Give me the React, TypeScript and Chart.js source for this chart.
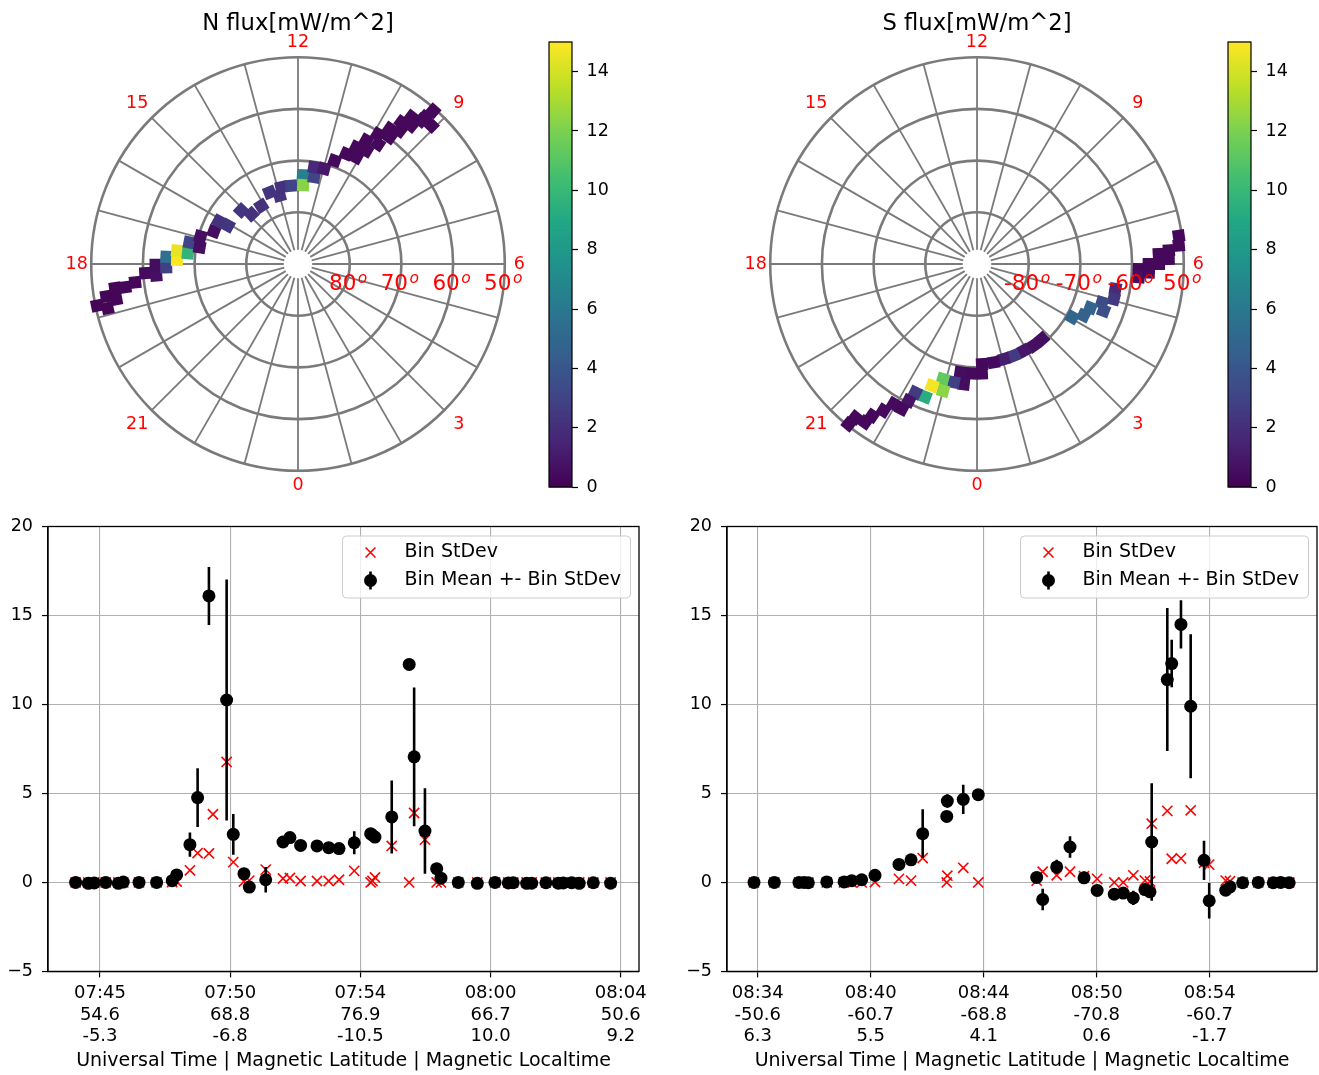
import React, { useEffect, useRef } from "react";
import { Chart, registerables } from "chart.js";

Chart.register(...registerables);

const FONT = "'DejaVu Sans', 'Liberation Sans', sans-serif";
Chart.defaults.font.family = FONT;
Chart.defaults.color = "#000";

// ---------------- Polar track data (MLT hours, magnetic latitude, flux mW/m^2) ----------------
const nMlt = [18.78, 18.87, 18.64, 18.73, 18.5, 18.51, 18.43, 18.23, 18.31, 18.02, 18.1, 17.79, 17.87, 17.58, 17.63, 17.25, 17.36, 16.95, 16.59, 16.11, 16.09, 15.11, 14.87, 14.15, 13.44, 13.0, 12.82, 12.33, 11.79, 11.75, 11.3, 11.37, 10.98, 10.7, 10.42, 10.09, 10.23, 9.93, 10.07, 9.75, 9.89, 9.61, 9.72, 9.51, 9.59, 9.38, 9.49, 9.29, 9.07, 9.24, 9.28];
const nLat = [50.3, 52.2, 52.4, 54.2, 54.3, 56.3, 58.3, 60.4, 62.5, 62.45, 64.5, 64.5, 66.6, 66.5, 68.6, 68.6, 70.7, 70.4, 72.55, 72.6, 74.55, 74.9, 76.8, 76.7, 75.1, 76.3, 74.8, 74.8, 72.8, 74.7, 72.9, 71.0, 70.9, 68.8, 66.75, 66.5, 64.75, 64.4, 62.7, 62.1, 60.5, 59.7, 58.4, 57.55, 56.06, 55.4, 54.1, 53.4, 52.8, 50.46, 52.5];
const nFlux = [0.2, 0.2, 0.2, 0.2, 0.2, 0.3, 0.3, 0.4, 0.6, 0.5, 2.8, 5.5, 15.0, 14.5, 9.8, 3.0, 0.6, 0.6, 0.5, 2.2, 2.3, 2.3, 2.1, 2.1, 2.3, 2.2, 2.1, 3.0, 6.5, 12.3, 3.0, 1.8, 1.0, 0.4, 0.3, 0.3, 0.3, 0.3, 0.3, 0.3, 0.3, 0.3, 0.3, 0.3, 0.3, 0.3, 0.3, 0.3, 0.3, 0.3, 0.3];

const sMlt = [6.53, 6.35, 6.27, 6.21, 6.1, 6.0, 6.0, 5.88, 5.69, 5.81, 5.32, 5.04, 4.86, 4.65, 4.59, 4.28, 4.05, 2.73, 2.32, 1.89, 1.45, 1.05, 0.64, 0.19, 0.17, 23.77, 23.42, 23.58, 23.26, 22.9, 23.0, 22.65, 22.58, 22.29, 22.23, 22.17, 21.95, 21.83, 21.69, 21.65, 21.44, 21.42];
const sLat = [-50.6, -50.8, -52.8, -54.8, -52.9, -56.8, -54.8, -58.7, -58.6, -56.7, -62.8, -62.7, -64.7, -63.9, -66.5, -67.1, -68.9, -70.8, -70.8, -70.95, -70.9, -70.9, -70.7, -70.6, -68.8, -68.8, -68.8, -66.6, -66.7, -66.8, -64.6, -64.9, -62.4, -62.4, -60.4, -58.4, -58.5, -56.35, -54.3, -52.5, -52.1, -50.3];
const sFlux = [0.3, 0.3, 0.3, 0.3, 0.3, 0.3, 0.3, 0.3, 0.6, 0.3, 1.8, 2.4, 3.4, 3.6, 4.8, 4.7, 5.0, 0.5, 0.6, 1.0, 2.6, 1.2, 0.4, 0.3, 0.3, 0.4, 0.5, 0.5, 2.8, 11.3, 12.4, 14.8, 9.3, 2.6, 0.8, 0.4, 0.4, 0.4, 0.3, 0.3, 0.3, 0.3];

const hourTicks = [12, 9, 6, 3, 0, 21, 18, 15];
const latRings = [80, 70, 60, 50];
const nRingLabels = ["80", "70", "60", "50"];
const sRingLabels = ["-80", "-70", "-60", "50"];
const cbTicks = [0, 2, 4, 6, 8, 10, 12, 14];
const cbMin = 0;
const cbMax = 15;

// ---------------- Bin statistics (x = sample position along the pass) ----------------
const nBinX = [-18.7, -9.0, -4.4, 4.4, 14.1, 17.9, 30.0, 43.5, 55.5, 58.9, 69.1, 75.0, 83.7, 86.8, 97.3, 102.4, 110.6, 114.7, 127.3, 140.6, 145.9, 154.1, 166.7, 175.7, 183.6, 195.3, 207.9, 209.3, 211.2, 224.1, 237.5, 241.3, 249.6, 258.6, 261.9, 275.2, 289.8, 303.4, 313.6, 317.4, 327.7, 331.6, 342.5, 352.0, 355.8, 362.3, 368.1, 378.9, 392.2];
const nBinMean = [0, -0.05, -0.03, 0, -0.05, 0.02, 0, 0, 0.1, 0.42, 2.12, 4.77, 16.1, 24.0, 10.25, 2.7, 0.49, -0.26, 0.15, 2.27, 2.52, 2.08, 2.05, 1.95, 1.9, 2.23, 2.74, 2.65, 2.55, 3.68, 12.25, 7.06, 2.89, 0.77, 0.24, 0, -0.05, 0, -0.03, -0.02, -0.05, -0.04, -0.02, -0.04, -0.03, -0.02, -0.05, -0.02, -0.04];
const nBinStd = [0, 0, 0, 0, 0, 0, 0, 0, 0.02, 0.05, 0.68, 1.65, 1.63, 3.83, 6.77, 1.14, 0.05, 0.1, 0.72, 0.22, 0.25, 0.08, 0.08, 0.08, 0.15, 0.65, 0.0, 0.08, 0.28, 2.05, 0.0, 3.9, 2.4, 0.0, 0.0, 0, 0, 0, 0, 0, 0, 0, 0, 0, 0, 0, 0, 0, 0];
const nTickPos = [0, 100, 200, 300, 400];
const nTickUT = ["07:45", "07:50", "07:54", "08:00", "08:04"];
const nTickMLat = ["54.6", "68.8", "76.9", "66.7", "50.6"];
const nTickMLT = ["-5.3", "-6.8", "-10.5", "10.0", "9.2"];

const sBinX = [-3.3, 14.7, 36.5, 41.0, 44.8, 61.1, 76.4, 83.2, 92.0, 103.8, 125.0, 135.7, 146.0, 167.3, 167.8, 181.9, 195.2, 246.9, 252.2, 264.6, 276.4, 288.8, 300.4, 315.6, 323.5, 332.4, 342.7, 347.2, 348.7, 362.5, 366.4, 374.6, 383.2, 395.0, 399.6, 414.2, 418.0, 429.2, 443.0, 456.3, 462.8, 470.4];
const sBinMean = [0, 0, 0, 0, -0.02, 0.03, 0.03, 0.1, 0.15, 0.4, 1.01, 1.27, 2.74, 3.71, 4.57, 4.67, 4.93, 0.28, -0.96, 0.87, 1.99, 0.26, -0.45, -0.66, -0.6, -0.87, -0.4, -0.53, 2.27, 11.4, 12.3, 14.5, 9.9, 1.24, -1.03, -0.44, -0.25, -0.02, 0, -0.02, 0, -0.02];
const sBinStd = [0, 0, 0, 0, 0, 0, 0, 0, 0, 0.02, 0.2, 0.1, 1.37, 0.0, 0.38, 0.82, 0.0, 0.1, 0.6, 0.4, 0.6, 0.35, 0.2, 0.0, 0.0, 0.4, 0.1, 0.05, 3.3, 4.02, 1.33, 1.35, 4.05, 1.1, 1.0, 0.1, 0.07, 0, 0, 0, 0, 0];
const sTickPos = [0, 100, 200, 300, 400];
const sTickUT = ["08:34", "08:40", "08:44", "08:50", "08:54"];
const sTickMLat = ["-50.6", "-60.7", "-68.8", "-70.8", "-60.7"];
const sTickMLT = ["6.3", "5.5", "4.1", "0.6", "-1.7"];

const yTicks = [-5, 0, 5, 10, 15, 20];

// ---------------- helpers ----------------
const VIRIDIS = [
  [68, 1, 84], [72, 36, 117], [65, 68, 135], [53, 95, 141], [42, 120, 142],
  [33, 145, 140], [34, 168, 132], [68, 191, 112], [122, 209, 81], [189, 223, 38], [253, 231, 37],
];
function viridis(t: number): string {
  const c = Math.max(0, Math.min(1, t)) * 10;
  const i = Math.min(9, Math.floor(c));
  const f = c - i;
  const a = VIRIDIS[i], b = VIRIDIS[i + 1];
  const r = Math.round(a[0] + (b[0] - a[0]) * f);
  const g = Math.round(a[1] + (b[1] - a[1]) * f);
  const bl = Math.round(a[2] + (b[2] - a[2]) * f);
  return `rgb(${r},${g},${bl})`;
}

const PX_PER_DEG = 5.17;
const POLAR_SIZE = 520;

function PolarPanel(props: { left: number; top: number; mlt: number[]; lat: number[]; flux: number[]; title: string; ringLabels: string[] }) {
  const ref = useRef<HTMLCanvasElement>(null);
  useEffect(() => {
    const { mlt, lat, flux, title, ringLabels } = props;
    const R = POLAR_SIZE / 2 / PX_PER_DEG;
    const pts = mlt.map((h, i) => {
      const c = 90 - Math.abs(lat[i]);
      const phi = (h / 24) * 2 * Math.PI;
      return { x: c * Math.sin(phi), y: -c * Math.cos(phi) };
    });
    const rots = mlt.map((h) => -(h / 24) * 360);
    const cols = flux.map((v) => viridis((v - cbMin) / (cbMax - cbMin)));

    const decor = {
      id: "polarDecor",
      beforeDatasetsDraw(chart: any) {
        const { ctx } = chart;
        const xs = chart.scales.x, ys = chart.scales.y;
        const cx = xs.getPixelForValue(0), cy = ys.getPixelForValue(0);
        const P = (c: number, h: number) => {
          const phi = (h / 24) * 2 * Math.PI;
          return [xs.getPixelForValue(c * Math.sin(phi)), ys.getPixelForValue(-c * Math.cos(phi))];
        };
        ctx.save();
        ctx.strokeStyle = "#7a7a7a";
        ctx.lineWidth = 1.8;
        for (let h = 0; h < 24; h++) {
          const a = P(2.75, h), b = P(40, h);
          ctx.beginPath();
          ctx.moveTo(a[0], a[1]);
          ctx.lineTo(b[0], b[1]);
          ctx.stroke();
        }
        ctx.lineWidth = 2.6;
        for (const L of latRings) {
          const r = xs.getPixelForValue(90 - L) - cx;
          ctx.beginPath();
          ctx.arc(cx, cy, r, 0, Math.PI * 2);
          ctx.stroke();
        }
        ctx.restore();
      },
      afterDatasetsDraw(chart: any) {
        const { ctx } = chart;
        const xs = chart.scales.x, ys = chart.scales.y;
        const cx = xs.getPixelForValue(0), cy = ys.getPixelForValue(0);
        ctx.save();
        // title
        ctx.fillStyle = "#000";
        ctx.font = `22.7px ${FONT}`;
        ctx.textAlign = "center";
        ctx.textBaseline = "alphabetic";
        ctx.fillText(title, cx, cy - 234.5);
        // hour labels
        ctx.fillStyle = "#ff0000";
        ctx.font = `17.5px ${FONT}`;
        ctx.textBaseline = "middle";
        for (const h of hourTicks) {
          const rr = h % 6 === 3 ? 44.0 : 42.8;
          const phi = (h / 24) * 2 * Math.PI;
          const x = xs.getPixelForValue(rr * Math.sin(phi));
          const y = ys.getPixelForValue(-rr * Math.cos(phi));
          ctx.fillText(String(h), x, y);
        }
        // latitude ring labels
        ctx.textBaseline = "alphabetic";
        ctx.textAlign = "left";
        latRings.forEach((L, i) => {
          const label = ringLabels[i];
          ctx.font = `21.5px ${FONT}`;
          const wd = ctx.measureText(label).width;
          ctx.font = `italic 15.5px ${FONT}`;
          const wo = ctx.measureText("o").width;
          const total = wd + 1.5 + wo;
          const center = xs.getPixelForValue(90 - L - 0.3);
          const start = center - total / 2;
          const base = ys.getPixelForValue(-4.95);
          ctx.font = `21.5px ${FONT}`;
          ctx.fillText(label, start, base);
          ctx.font = `italic 15.5px ${FONT}`;
          ctx.fillText("o", start + wd + 1.5, base - 6.5);
        });
        ctx.restore();
      },
    };

    const chart = new Chart(ref.current as HTMLCanvasElement, {
      type: "scatter",
      data: {
        datasets: [
          {
            data: pts,
            pointStyle: "rect",
            pointRadius: 8.5,
            pointRotation: rots,
            pointBackgroundColor: cols,
            pointBorderWidth: 0,
          } as any,
        ],
      },
      options: {
        responsive: false,
        animation: false,
        devicePixelRatio: 1,
        layout: { padding: 0, autoPadding: false },
        plugins: { legend: { display: false }, tooltip: { enabled: false } },
        scales: {
          x: { type: "linear", display: false, min: -R, max: R },
          y: { type: "linear", display: false, min: -R, max: R },
        },
      } as any,
      plugins: [decor],
    });
    return () => chart.destroy();
  }, []);
  return (
    <canvas
      ref={ref}
      width={POLAR_SIZE}
      height={POLAR_SIZE}
      style={{ position: "absolute", left: props.left, top: props.top, width: POLAR_SIZE, height: POLAR_SIZE }}
    />
  );
}

function ColorBar(props: { left: number; top: number }) {
  const ref = useRef<HTMLCanvasElement>(null);
  useEffect(() => {
    const grad = {
      id: "cbGrad",
      beforeDatasetsDraw(chart: any) {
        const { ctx, chartArea } = chart;
        const ys = chart.scales.y;
        const n = 256;
        ctx.save();
        for (let k = 0; k < n; k++) {
          const v0 = cbMin + ((cbMax - cbMin) * k) / n;
          const v1 = cbMin + ((cbMax - cbMin) * (k + 1)) / n;
          const y0 = ys.getPixelForValue(v0), y1 = ys.getPixelForValue(v1);
          ctx.fillStyle = viridis((k + 0.5) / n);
          ctx.fillRect(chartArea.left, y1 - 0.5, chartArea.right - chartArea.left, y0 - y1 + 1);
        }
        ctx.strokeStyle = "#000";
        ctx.lineWidth = 1.2;
        ctx.strokeRect(chartArea.left, chartArea.top, chartArea.right - chartArea.left, chartArea.bottom - chartArea.top);
        ctx.restore();
      },
    };
    const chart = new Chart(ref.current as HTMLCanvasElement, {
      type: "scatter",
      data: { datasets: [{ data: [] }] },
      options: {
        responsive: false,
        animation: false,
        devicePixelRatio: 1,
        layout: { padding: { left: 9, top: 12, bottom: 13, right: 0 }, autoPadding: false },
        plugins: { legend: { display: false }, tooltip: { enabled: false } },
        scales: {
          x: { type: "linear", display: false, min: 0, max: 1 },
          y: {
            type: "linear",
            position: "right",
            min: cbMin,
            max: cbMax,
            afterBuildTicks: (s: any) => {
              s.ticks = cbTicks.map((v) => ({ value: v }));
            },
            afterFit: (s: any) => {
              s.width = 48;
              s.paddingTop = 0;
              s.paddingBottom = 0;
            },
            ticks: { font: { size: 17.5, family: FONT }, padding: 8.5, color: "#000" },
            grid: { drawOnChartArea: false, drawTicks: true, tickLength: 6, tickColor: "#000", tickWidth: 1.2 },
            border: { display: false },
          },
        },
      } as any,
      plugins: [grad],
    });
    return () => chart.destroy();
  }, []);
  return (
    <canvas ref={ref} width={80} height={470} style={{ position: "absolute", left: props.left, top: props.top, width: 80, height: 470 }} />
  );
}

function StatPanel(props: {
  left: number; top: number; width: number; height: number; yAxisWidth: number; padRight: number;
  binX: number[]; mean: number[]; std: number[]; tickPos: number[]; ut: string[]; mlat: string[]; mlt: string[];
  xMin: number; xMax: number;
}) {
  const ref = useRef<HTMLCanvasElement>(null);
  useEffect(() => {
    const { binX, mean, std, tickPos, ut, mlat, mlt, xMin, xMax } = props;
    const clipArea = (ctx: any, a: any) => {
      ctx.beginPath();
      ctx.rect(a.left, a.top, a.right - a.left, a.bottom - a.top);
      ctx.clip();
    };
    const errPlugin = {
      id: "errBars",
      beforeDatasetDraw(chart: any, args: any) {
        if (args.index !== 0) return;
        const { ctx, chartArea } = chart;
        const xs = chart.scales.x, ys = chart.scales.y;
        ctx.save();
        clipArea(ctx, chartArea);
        ctx.strokeStyle = "#000";
        ctx.lineWidth = 2.6;
        binX.forEach((x, i) => {
          const e = std[i];
          if (!e) return;
          const px = xs.getPixelForValue(x);
          ctx.beginPath();
          ctx.moveTo(px, ys.getPixelForValue(mean[i] - e));
          ctx.lineTo(px, ys.getPixelForValue(mean[i] + e));
          ctx.stroke();
        });
        ctx.restore();
      },
    };
    const framePlugin = {
      id: "frameLegend",
      afterDatasetsDraw(chart: any) {
        const { ctx, chartArea: a } = chart;
        ctx.save();
        ctx.strokeStyle = "#000";
        ctx.lineWidth = 1.3;
        ctx.strokeRect(a.left, a.top, a.right - a.left, a.bottom - a.top);
        // legend
        const w = 288, h = 62;
        const bx = a.right - 8.5 - w, by = a.top + 9.5;
        const r = 4;
        ctx.beginPath();
        ctx.moveTo(bx + r, by);
        ctx.lineTo(bx + w - r, by);
        ctx.arcTo(bx + w, by, bx + w, by + r, r);
        ctx.lineTo(bx + w, by + h - r);
        ctx.arcTo(bx + w, by + h, bx + w - r, by + h, r);
        ctx.lineTo(bx + r, by + h);
        ctx.arcTo(bx, by + h, bx, by + h - r, r);
        ctx.lineTo(bx, by + r);
        ctx.arcTo(bx, by, bx + r, by, r);
        ctx.closePath();
        ctx.fillStyle = "rgba(255,255,255,0.8)";
        ctx.fill();
        ctx.strokeStyle = "#cccccc";
        ctx.lineWidth = 1;
        ctx.stroke();
        const mx = bx + 28;
        const r1 = by + 16.5, r2 = by + 44.5;
        // red x
        ctx.strokeStyle = "#ff0000";
        ctx.lineWidth = 1.6;
        const d = 4.95;
        ctx.beginPath();
        ctx.moveTo(mx - d, r1 - d); ctx.lineTo(mx + d, r1 + d);
        ctx.moveTo(mx - d, r1 + d); ctx.lineTo(mx + d, r1 - d);
        ctx.stroke();
        // black errorbar marker
        ctx.strokeStyle = "#000";
        ctx.lineWidth = 2.6;
        ctx.beginPath();
        ctx.moveTo(mx, r2 - 9); ctx.lineTo(mx, r2 + 9);
        ctx.stroke();
        ctx.fillStyle = "#000";
        ctx.beginPath();
        ctx.arc(mx, r2, 6.5, 0, Math.PI * 2);
        ctx.fill();
        ctx.font = `19px ${FONT}`;
        ctx.textAlign = "left";
        ctx.textBaseline = "middle";
        ctx.fillText("Bin StDev", bx + 62, r1);
        ctx.fillText("Bin Mean +- Bin StDev", bx + 62, r2);
        ctx.restore();
      },
    };

    const chart = new Chart(ref.current as HTMLCanvasElement, {
      type: "scatter",
      data: {
        datasets: [
          {
            label: "Bin Mean +- Bin StDev",
            data: binX.map((x, i) => ({ x, y: mean[i] })),
            pointStyle: "circle",
            pointRadius: 6.5,
            pointBackgroundColor: "#000",
            pointBorderWidth: 0,
          } as any,
          {
            label: "Bin StDev",
            data: binX.map((x, i) => ({ x, y: std[i] })),
            pointStyle: "crossRot",
            pointRadius: 7.2,
            pointBorderColor: "#ff0000",
            pointBorderWidth: 1.6,
          } as any,
        ],
      },
      options: {
        responsive: false,
        animation: false,
        devicePixelRatio: 1,
        layout: { padding: { top: 16.5, right: props.padRight, left: 0, bottom: 0 }, autoPadding: false },
        plugins: { legend: { display: false }, tooltip: { enabled: false } },
        scales: {
          x: {
            type: "linear",
            min: xMin,
            max: xMax,
            afterBuildTicks: (s: any) => {
              s.ticks = tickPos.map((v) => ({ value: v }));
            },
            afterFit: (s: any) => {
              s.height = 103.6;
              s.paddingLeft = 0;
              s.paddingRight = 0;
            },
            ticks: {
              autoSkip: false,
              maxRotation: 0,
              minRotation: 0,
              padding: 5.7,
              color: "#000",
              font: { size: 18, family: FONT, lineHeight: 1.18 },
              callback: (v: any) => {
                const i = tickPos.indexOf(Number(v));
                return i < 0 ? "" : [ut[i], mlat[i], mlt[i]];
              },
            },
            grid: { color: "#b0b0b0", lineWidth: 1.1, tickColor: "#000", tickLength: 6, tickWidth: 1.2 },
            border: { color: "#000", width: 1.3 },
            title: {
              display: true,
              text: "Universal Time | Magnetic Latitude | Magnetic Localtime",
              color: "#000",
              font: { size: 19, family: FONT, lineHeight: 1.2 },
              padding: { top: 0, bottom: 2.6 },
            },
          },
          y: {
            type: "linear",
            min: -5,
            max: 20,
            afterBuildTicks: (s: any) => {
              s.ticks = yTicks.map((v) => ({ value: v }));
            },
            afterFit: (s: any) => {
              s.width = props.yAxisWidth;
              s.paddingTop = 0;
              s.paddingBottom = 0;
            },
            ticks: {
              padding: 9,
              color: "#000",
              font: { size: 17.5, family: FONT },
              callback: (v: any) => (Number(v) < 0 ? "\u2212" + Math.abs(Number(v)) : String(v)),
            },
            grid: { color: "#b0b0b0", lineWidth: 1.1, tickColor: "#000", tickLength: 6, tickWidth: 1.2 },
            border: { color: "#000", width: 1.3 },
          },
        },
      } as any,
      plugins: [errPlugin, framePlugin],
    });
    return () => chart.destroy();
  }, []);
  return (
    <canvas
      ref={ref}
      width={props.width}
      height={props.height}
      style={{ position: "absolute", left: props.left, top: props.top, width: props.width, height: props.height }}
    />
  );
}

export default function App() {
  return (
    <div style={{ position: "absolute", left: 0, top: 0, width: 1319, height: 1075, background: "#fff", overflow: "hidden" }}>
      <PolarPanel left={38} top={4} mlt={nMlt} lat={nLat} flux={nFlux} title="N flux[mW/m^2]" ringLabels={nRingLabels} />
      <ColorBar left={540} top={30} />
      <PolarPanel left={717} top={4} mlt={sMlt} lat={sLat} flux={sFlux} title="S flux[mW/m^2]" ringLabels={sRingLabels} />
      <ColorBar left={1219} top={30} />
      <StatPanel
        left={0} top={510} width={660} height={565} yAxisWidth={48} padRight={21}
        binX={nBinX} mean={nBinMean} std={nBinStd}
        tickPos={nTickPos} ut={nTickUT} mlat={nTickMLat} mlt={nTickMLT}
        xMin={-39.9} xMax={414.0}
      />
      <StatPanel
        left={680} top={510} width={639} height={565} yAxisWidth={47} padRight={2}
        binX={sBinX} mean={sBinMean} std={sBinStd}
        tickPos={sTickPos} ut={sTickUT} mlat={sTickMLat} mlt={sTickMLT}
        xMin={-27.2} xMax={495.0}
      />
    </div>
  );
}
